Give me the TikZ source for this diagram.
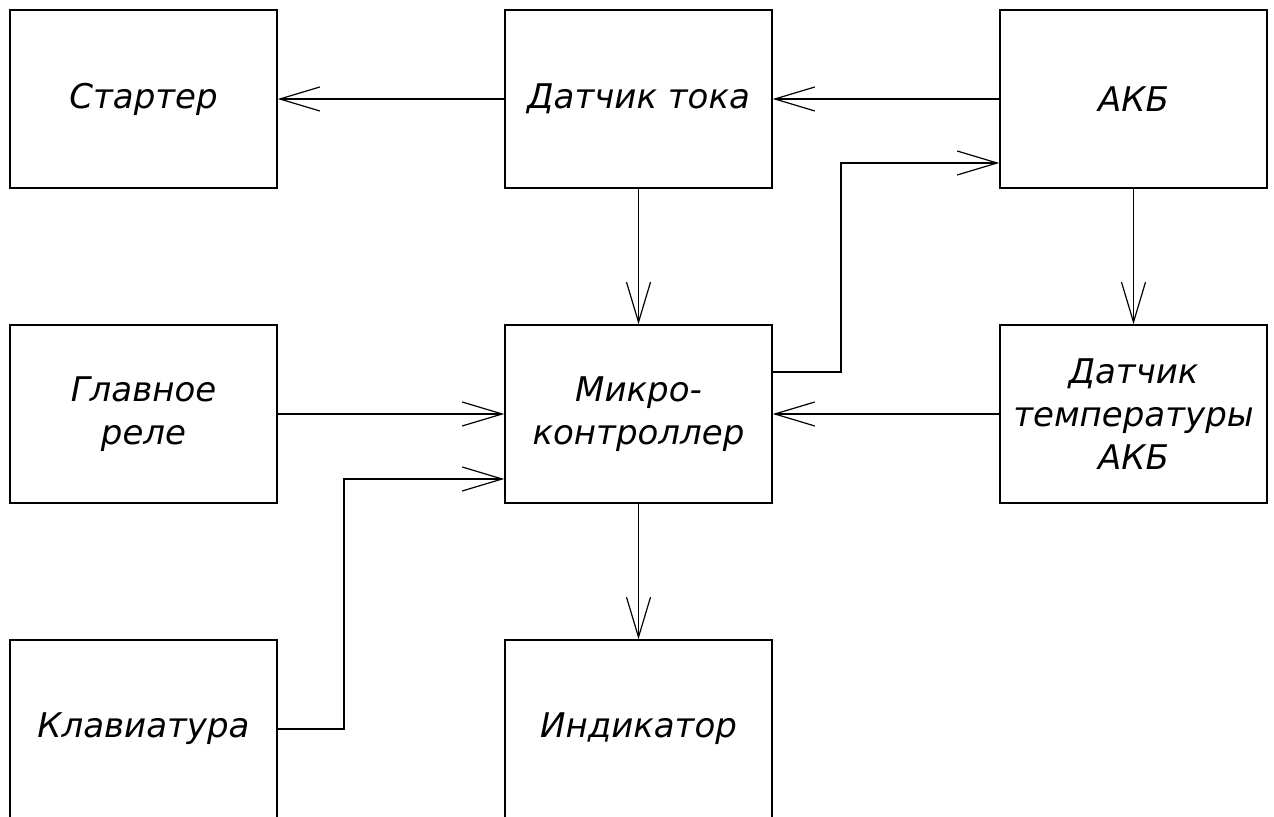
\documentclass[tikz,border=0pt]{standalone}
\usepackage{fontspec}
\setmainfont{DejaVu Sans}
\usepackage{tikz}
\usetikzlibrary{arrows.meta, positioning}

\begin{document}
\begin{tikzpicture}[node distance=157.5pt and 247.5pt,on grid,
    line width=0.75pt]
    \tikzstyle{block}=[shape=rectangle,draw,minimum width=133.5pt,minimum height=89pt,
      align=center,font=\fontsize{17}{21.5}\selectfont\itshape]
    \tikzstyle{arr}=[-{Straight Barb[length=20pt,width=12pt,line width=0.6pt]}]

    \useasboundingbox (-71.75pt,49.5pt) rectangle (565.25pt,-359pt);

    \node[block] (starter) {Стартер};
    \node[block, right=of starter] (sensor) {Датчик тока};
    \node[block, right=of sensor] (akb) {АКБ};

    \node[block, below=of starter] (relay) {Главное\\реле};
    \node[block, below=of sensor] (micro) {Микро-\\контроллер};
    \node[block, below=of akb] (temp) {Датчик\\температуры\\АКБ};

    \node[block, below=of relay] (keys) {Клавиатура};
    \node[block, below=of micro] (display) {Индикатор};

    \path[arr,draw]
    (sensor) edge (starter)
    (akb) edge (sensor)
    (sensor) edge (micro)
    (akb) edge (temp)
    (relay) edge (micro)
    (temp) edge (micro)
    (micro) edge (display)
    ;

    \draw[arr] ([yshift=21pt]micro.east) -- ++(34pt,0) |- ([yshift=-32pt]akb.west);
    \draw[arr] (keys.east) -- ++(33pt,0) |- ([yshift=-32.5pt]micro.west);

  \end{tikzpicture}
\end{document}
